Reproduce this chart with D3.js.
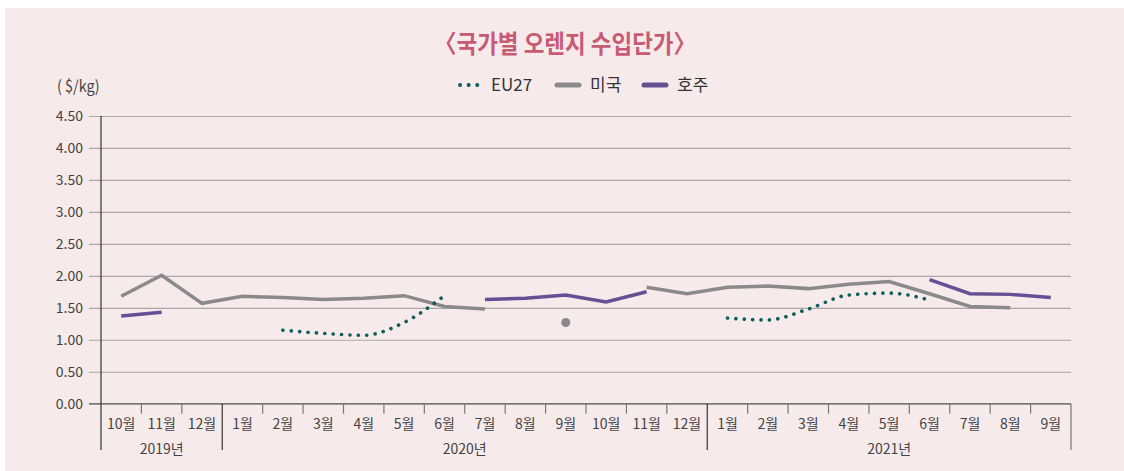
<!DOCTYPE html>
<html>
<head>
<meta charset="utf-8">
<script src="https://cdn.jsdelivr.net/npm/d3@7"></script>
<style>
  body { margin: 0; background: #fff; }
  svg text { font-family: "Noto Sans CJK KR", "Noto Sans", sans-serif; }
</style>
</head>
<body>
<div id="chart"></div>
<script>
let width = 1124;
let height = 471;

// data
let months = ["10월", "11월", "12월",
    "1월", "2월", "3월", "4월", "5월", "6월", "7월", "8월", "9월", "10월", "11월", "12월",
    "1월", "2월", "3월", "4월", "5월", "6월", "7월", "8월", "9월"];
let years = [
    { label: "2019년", from: 0, to: 3 },
    { label: "2020년", from: 3, to: 15 },
    { label: "2021년", from: 15, to: 24 }
];
let eu27 = [null, null, null, null, 1.15, 1.10, 1.07, 1.27, 1.69, null, null, null, null, null, null,
    1.34, 1.31, 1.48, 1.70, 1.73, 1.62, null, null, null];
let usa = [1.68, 2.01, 1.57, 1.68, 1.66, 1.63, 1.65, 1.69, 1.52, 1.48, null, 1.27, null, 1.82, 1.72,
    1.82, 1.84, 1.80, 1.87, 1.91, 1.72, 1.52, 1.50, null];
let aus = [1.37, 1.43, null, null, null, null, null, null, null, 1.63, 1.65, 1.70, 1.59, 1.75, null,
    null, null, null, null, null, 1.94, 1.72, 1.71, 1.66];
let yTicks = [0, 0.5, 1, 1.5, 2, 2.5, 3, 3.5, 4, 4.5];

let colors = { eu: "#0d5f5c", us: "#8a8a8a", au: "#6a4e94" };

let plotL = 101, plotR = 1071, plotT = 116, plotB = 403.7;

let svg = d3.select("#chart").append("svg")
    .attr("width", width).attr("height", height);

svg.append("rect").attr("x", 5).attr("y", 8)
    .attr("width", width - 5).attr("height", height - 8)
    .attr("fill", "#f7eaeb");

let x = d3.scaleBand().domain(d3.range(months.length)).range([plotL, plotR]);
let y = d3.scaleLinear().domain([0, 4.5]).range([plotB, plotT]);

// title
svg.append("text").attr("transform", "translate(565,53) scale(0.9,1)")
    .attr("text-anchor", "middle")
    .attr("font-size", 25).attr("font-weight", "bold")
    .attr("fill", "#c85b74")
    .text("〈국가별 오렌지 수입단가〉");

svg.append("text").attr("transform", "translate(57,92) scale(0.9,1)")
    .attr("font-size", 16).attr("fill", "#444")
    .text("( $/kg)");

// y axis + grid
let yAxis = svg.append("g").attr("transform", `translate(89,0)`)
    .call(d3.axisLeft(y).tickValues(yTicks).tickFormat(d3.format(".2f"))
        .tickSize(-(plotR - 89)).tickPadding(6));
yAxis.select(".domain").remove();
yAxis.selectAll(".tick line").attr("stroke", "#aba7a8").attr("stroke-width", 1.2);
yAxis.selectAll(".tick text").attr("font-size", 14).attr("fill", "#444")
    .attr("font-family", "'Noto Sans CJK KR', sans-serif");

// x axis
svg.append("line").attr("x1", 89).attr("x2", plotR).attr("y1", plotB).attr("y2", plotB)
    .attr("stroke", "#777").attr("stroke-width", 1.5);

let yearEdges = years.map(d => d.from).concat([months.length]);
svg.selectAll(".mtick").data(d3.range(1, months.length).filter(i => !yearEdges.includes(i)))
    .join("line").attr("class", "mtick")
    .attr("x1", i => x(i)).attr("x2", i => x(i))
    .attr("y1", plotB).attr("y2", plotB + 10)
    .attr("stroke", "#777").attr("stroke-width", 1.2);

svg.selectAll(".ytick").data(yearEdges)
    .join("line").attr("class", "ytick")
    .attr("x1", i => i == months.length ? plotR : x(i))
    .attr("x2", i => i == months.length ? plotR : x(i))
    .attr("y1", i => i == 0 ? plotT : plotB).attr("y2", 450)
    .attr("stroke", i => i == months.length ? "#777" : "#333").attr("stroke-width", 1.2);

svg.selectAll(".mlabel").data(months)
    .join("text").attr("class", "mlabel")
    .attr("x", (d, i) => x(i) + x.bandwidth() / 2).attr("y", 429)
    .attr("text-anchor", "middle").attr("font-size", 14).attr("fill", "#444")
    .text(d => d);

svg.selectAll(".ylabel").data(years)
    .join("text").attr("class", "ylabel")
    .attr("x", d => (x(d.from) + (d.to == months.length ? plotR : x(d.to))) / 2).attr("y", 454)
    .attr("text-anchor", "middle").attr("font-size", 14).attr("fill", "#444")
    .text(d => d.label);

// series
let cx = i => x(i) + x.bandwidth() / 2;
let line = d3.line().defined(d => d != null).x((d, i) => cx(i)).y(d => y(d));

svg.append("path").datum(usa).attr("d", line)
    .attr("fill", "none").attr("stroke", colors.us).attr("stroke-width", 3.5);

svg.append("path").datum(aus).attr("d", line)
    .attr("fill", "none").attr("stroke", colors.au).attr("stroke-width", 3.5);

// lone points
svg.selectAll(".lone").data(usa.map((v, i) => ({ v, i }))
        .filter(d => d.v != null && usa[d.i - 1] == null && usa[d.i + 1] == null))
    .join("circle").attr("class", "lone")
    .attr("cx", d => cx(d.i)).attr("cy", d => y(d.v)).attr("r", 4.5)
    .attr("fill", colors.us);

let curve = d3.line().defined(d => d != null).x((d, i) => cx(i)).y(d => y(d))
    .curve(d3.curveMonotoneX);
svg.append("path").datum(eu27).attr("d", curve)
    .attr("fill", "none").attr("stroke", colors.eu).attr("stroke-width", 3.6)
    .attr("stroke-linecap", "round").attr("stroke-dasharray", "0.1 8.3");

// legend
let legend = svg.append("g").attr("transform", "translate(0,85)");
let items = [
    { name: "EU27", color: colors.eu, dots: true, x: 460 },
    { name: "미국", color: colors.us, dots: false, x: 557 },
    { name: "호주", color: colors.au, dots: false, x: 644 }
];
items.forEach(d => {
    legend.append("line").attr("x1", d.x).attr("x2", d.x + (d.dots ? 21 : 22))
        .attr("y1", 0).attr("y2", 0)
        .attr("stroke", d.color).attr("stroke-width", d.dots ? 4 : 5)
        .attr("stroke-linecap", "round")
        .attr("stroke-dasharray", d.dots ? "0.1 8.5" : null);
    legend.append("text").attr("x", d.x + (d.dots ? 31 : 33)).attr("y", 6)
        .attr("font-size", 17).attr("fill", "#333").text(d.name);
});
</script>
</body>
</html>
